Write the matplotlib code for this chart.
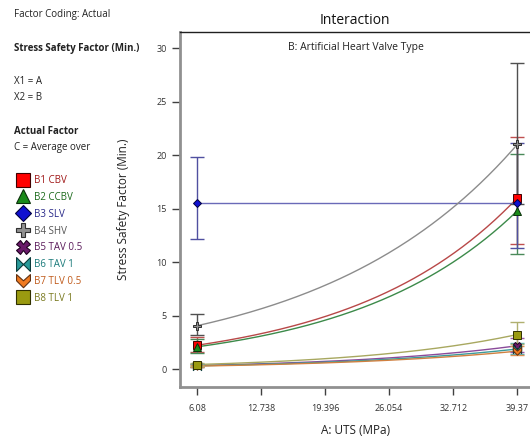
import numpy as np
import matplotlib
matplotlib.use("Agg")
import matplotlib.pyplot as plt
from matplotlib.path import Path
from matplotlib.lines import Line2D

plt.rcParams['font.family'] = ['Open Sans', 'DejaVu Sans']

# ---- data ----
uts_ends = [6.08, 39.37]
xticks = [6.08, 12.738, 19.396, 26.054, 32.712, 39.37]
xtick_labels = ["6.08", "12.738", "19.396", "26.054", "32.712", "39.37"]
yticks = [0, 5, 10, 15, 20, 25, 30]

labels = ["B1 CBV", "B2 CCBV", "B3 SLV", "B4 SHV", "B5 TAV 0.5", "B6 TAV 1", "B7 TLV 0.5", "B8 TLV 1"]
mean_b1 = [2.25, 16.0]
mean_b2 = [2.1, 14.8]
mean_b3 = [15.5, 15.5]
mean_b4 = [4.07, 21.0]
mean_b5 = [0.36, 2.2]
mean_b6 = [0.33, 1.9]
mean_b7 = [0.30, 1.7]
mean_b8 = [0.45, 3.25]
lo_b1 = [1.65, 11.7]; hi_b1 = [3.0, 21.7]
lo_b2 = [1.55, 10.8]; hi_b2 = [2.85, 20.1]
lo_b3 = [12.2, 11.3]; hi_b3 = [19.8, 21.1]
lo_b4 = [3.2, 15.4]; hi_b4 = [5.16, 28.6]
lo_b5 = [0.26, 1.6]; hi_b5 = [0.5, 2.9]
lo_b6 = [0.24, 1.4]; hi_b6 = [0.46, 2.5]
lo_b7 = [0.22, 1.3]; hi_b7 = [0.42, 2.2]
lo_b8 = [0.32, 2.4]; hi_b8 = [0.62, 4.45]

means = [mean_b1, mean_b2, mean_b3, mean_b4, mean_b5, mean_b6, mean_b7, mean_b8]
los = [lo_b1, lo_b2, lo_b3, lo_b4, lo_b5, lo_b6, lo_b7, lo_b8]
his = [hi_b1, hi_b2, hi_b3, hi_b4, hi_b5, hi_b6, hi_b7, hi_b8]

# ---- styles ----
bowtie = Path([(-1, -1), (0, 0), (-1, 1), (-1, -1), (1, -1), (0, 0), (1, 1), (1, -1)],
              [Path.MOVETO, Path.LINETO, Path.LINETO, Path.CLOSEPOLY,
               Path.MOVETO, Path.LINETO, Path.LINETO, Path.CLOSEPOLY])
chevron = Path([(-1, 1), (0, 0.1), (1, 1), (1, 0.1), (0, -0.9), (-1, 0.1), (-1, 1)],
               [Path.MOVETO] + [Path.LINETO] * 5 + [Path.CLOSEPOLY])
markers = ['s', '^', 'D', 'P', 'X', bowtie, chevron, 's']
msizes = [6, 6, 4.5, 6, 6, 6, 6, 6]
leg_sizes = [10, 10, 8, 10, 10, 10, 10, 10]
fills = ['#ff0000', '#1a8a1a', '#1010d0', '#909090', '#6a1a6a', '#2a9a9a', '#f07a20', '#9a9a10']
edges = ['#400000', '#0a300a', '#000040', '#303030', '#200020', '#0a3a3a', '#603010', '#303000']
line_cols = ['#b84848', '#3c8a4a', '#6a6ab8', '#8c8c8c', '#8a4a9a', '#3a9a9a', '#d08040', '#a8a860']
bar_cols = ['#c05050', '#4a8a5a', '#5050a0', '#505050', '#9a5aa8', '#5ab0b0', '#e09050', '#b0b070']
text_cols = ['#a01818', '#1a6a1a', '#2a2a8a', '#555555', '#5a1a5a', '#1a7a7a', '#c05a1a', '#7a7a20']

W, H = 530, 436
fig = plt.figure(figsize=(W / 100, H / 100), dpi=100)
ax = fig.add_axes([180 / W, 1 - 387 / H, 352 / W, (387 - 32) / H])

xs = np.linspace(uts_ends[0], uts_ends[1], 200)
for i in range(8):
    m = means[i]
    t = (xs - uts_ends[0]) / (uts_ends[1] - uts_ends[0])
    curve = m[0] * (m[1] / m[0]) ** t
    ax.plot(xs, curve, color=line_cols[i], lw=1.0, zorder=2)
for i in range(8):
    m = np.array(means[i])
    yerr = [m - np.array(los[i]), np.array(his[i]) - m]
    ax.errorbar(uts_ends, m, yerr=yerr, fmt='none', ecolor=bar_cols[i],
                elinewidth=1.0, capsize=5, capthick=1.0, zorder=3)
    ax.plot(uts_ends, m, linestyle='none', marker=markers[i], markersize=msizes[i],
            markerfacecolor=fills[i], markeredgecolor=edges[i], markeredgewidth=0.7, zorder=4)

ax.set_xlim(4.31, 40.9)
ax.set_ylim(-1.65, 31.5)
ax.set_xticks(xticks)
ax.set_xticklabels(xtick_labels)
ax.set_yticks(yticks)
ax.tick_params(axis='both', labelsize=6.5, length=6, width=1.0, color='#404040', direction='out',
               labelcolor='#333333')
ax.tick_params(axis='x', pad=6)
ax.spines['right'].set_visible(False)
ax.spines['top'].set_color('#202020')
ax.spines['top'].set_linewidth(1.0)
for s in ['left', 'bottom']:
    ax.spines[s].set_color('#909090')
    ax.spines[s].set_linewidth(2.0)

ax.set_xlabel("A: UTS (MPa)", fontsize=8.5, color='#222222', labelpad=8)
ax.set_ylabel("Stress Safety Factor (Min.)", fontsize=8.5, color='#222222', labelpad=19)
fig.text(355 / W, 1 - 20 / H, "Interaction", fontsize=10, ha='center', va='center', color='#111111')
ax.text(0.5, 1 - 15 / 355, "B: Artificial Heart Valve Type", transform=ax.transAxes,
        fontsize=7.5, ha='center', va='center', color='#222222')

# ---- left panel ----
def ftxt(x, y, s, **kw):
    fig.text(x / W, 1 - y / H, s, va='center', ha='left', fontsize=7, color='#222222', **kw)

ftxt(14, 15, "Factor Coding: Actual")
ftxt(14, 48, "Stress Safety Factor (Min.)", fontweight='bold')
ftxt(14, 81, "X1 = A")
ftxt(14, 98, "X2 = B")
ftxt(14, 131, "Actual Factor", fontweight='bold')
ftxt(14, 147, "C = Average over")

handles = [Line2D([], [], linestyle='none', marker=markers[i], markersize=leg_sizes[i],
                  markerfacecolor=fills[i], markeredgecolor=edges[i], markeredgewidth=0.8)
           for i in range(8)]
fig.legend(handles, labels, loc='upper left', bbox_to_anchor=(18 / W, 1 - 175 / H),
           frameon=False, fontsize=7, handlelength=1.0, handletextpad=0.6,
           labelspacing=0.6, borderpad=0, borderaxespad=0, labelcolor=text_cols)

fig.savefig("out.png", dpi=100)
